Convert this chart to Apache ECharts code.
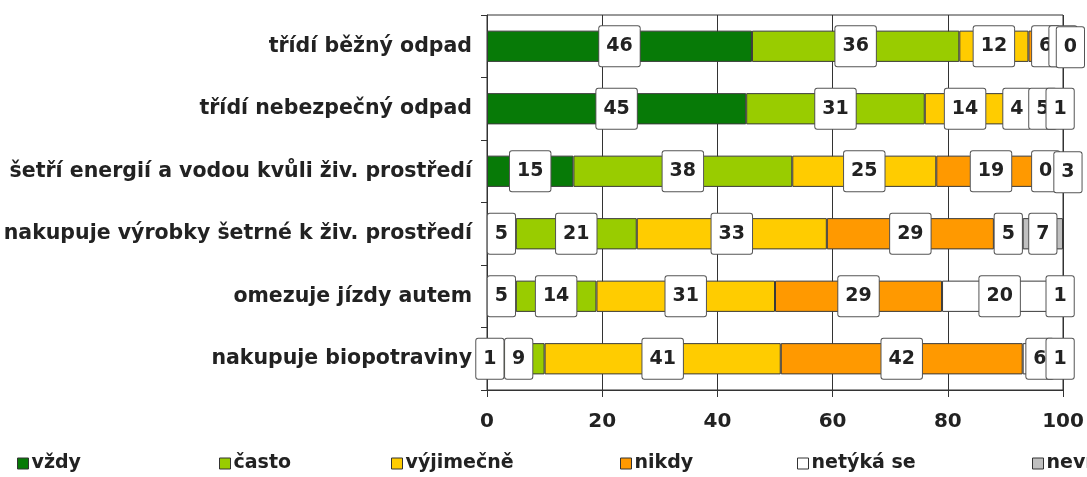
<!DOCTYPE html>
<html>
<head>
<meta charset="utf-8">
<script src="https://cdn.jsdelivr.net/npm/echarts@6/dist/echarts.min.js"></script>
<style>
html,body{margin:0;padding:0;background:#fff;}
#chart{width:1087px;height:477px;}
</style>
</head>
<body>
<div id="chart"></div>
<script>
const categories = [
  'třídí běžný odpad',
  'třídí nebezpečný odpad',
  'šetří energií a vodou kvůli živ. prostředí',
  'nakupuje výrobky šetrné k živ. prostředí',
  'omezuje jízdy autem',
  'nakupuje biopotraviny'
];
const seriesNames = ['vždy', 'často', 'výjimečně', 'nikdy', 'netýká se', 'neví'];
const vzdy      = [46, 45, 15, 5, 5, 1];
const casto     = [36, 31, 38, 21, 14, 9];
const vyjimecne = [12, 14, 25, 33, 31, 41];
const nikdy     = [6, 4, 19, 29, 29, 42];
const netyka    = [0, 5, 0, 5, 20, 6];
const nevi      = [0, 1, 3, 7, 1, 1];
const xTicks = [0, 20, 40, 60, 80, 100];

const values = [vzdy, casto, vyjimecne, nikdy, netyka, nevi];
const colors = ['#077a07', '#99cc00', '#ffcc00', '#ff9900', '#ffffff', '#c0c0c0'];
const legendLeft = [17, 219, 391, 620, 797, 1032];

const FONT = '"DejaVu Sans", Verdana, sans-serif';

const chart = echarts.init(document.getElementById('chart'), null, {renderer: 'canvas'});

// Spread data labels that sit almost on top of each other (like the original)
const lastRight = {};
function spreadLabels(params) {
  const r = params.labelRect;
  const key = params.dataIndex;
  if (params.seriesIndex === 0 || lastRight[key] == null) {
    lastRight[key] = r.x + r.width;
    return {};
  }
  let left = r.x;
  const overlap = lastRight[key] - left;
  if (overlap > 14) {
    left = lastRight[key] - 6;
  }
  if (left + r.width > 1086) left = Math.max(r.x, 1086 - r.width);
  lastRight[key] = left + r.width;
  if (left === r.x) return {};
  return {x: left, y: r.y + 2};
}

const series = seriesNames.map((name, i) => ({
  name: name,
  type: 'bar',
  stack: 'total',
  barWidth: '50%',
  data: values[i],
  itemStyle: {color: colors[i], borderColor: '#3a3a3a', borderWidth: 1},
  label: {
    show: true,
    position: 'inside',
    formatter: '{c}',
    fontFamily: FONT,
    fontWeight: 'bold',
    fontSize: 19,
    lineHeight: 20,
    color: '#222',
    backgroundColor: '#fff',
    borderColor: '#555',
    borderWidth: 1,
    borderRadius: 2,
    padding: [10, 7, 10, 7]
  },
  labelLayout: spreadLabels,
  emphasis: {disabled: true},
  animation: false
}));

const legends = seriesNames.map((name, i) => ({
  data: [name],
  left: legendLeft[i],
  top: 454,
  orient: 'horizontal',
  icon: 'rect',
  itemWidth: 11,
  itemHeight: 11,
  itemGap: 0,
  padding: 0,
  textStyle: {fontFamily: FONT, fontWeight: 'bold', fontSize: 19, color: '#222', padding: [0, 0, 0, -2]},
  itemStyle: {borderColor: '#333', borderWidth: 1},
  selectedMode: false
}));

chart.setOption({
  animation: false,
  backgroundColor: '#fff',
  legend: legends,
  grid: {
    left: 487, right: 24, top: 15, bottom: 87,
    show: true, borderColor: '#333', borderWidth: 1, backgroundColor: 'transparent'
  },
  xAxis: {
    type: 'value',
    min: xTicks[0],
    max: xTicks[xTicks.length - 1],
    interval: xTicks[1] - xTicks[0],
    axisLine: {show: true, lineStyle: {color: '#333', width: 1}},
    axisTick: {show: true, length: 7, lineStyle: {color: '#333'}},
    splitLine: {show: true, lineStyle: {color: '#333', width: 1}},
    axisLabel: {margin: 22, fontFamily: FONT, fontWeight: 'bold', fontSize: 20, color: '#222'}
  },
  yAxis: {
    type: 'category',
    inverse: true,
    data: categories,
    axisLine: {show: true, lineStyle: {color: '#333', width: 1}},
    axisTick: {show: true, length: 6, lineStyle: {color: '#333'}},
    axisLabel: {margin: 15, fontFamily: FONT, fontWeight: 'bold', fontSize: 20.5, color: '#222'}
  },
  series: series
});
</script>
</body>
</html>
